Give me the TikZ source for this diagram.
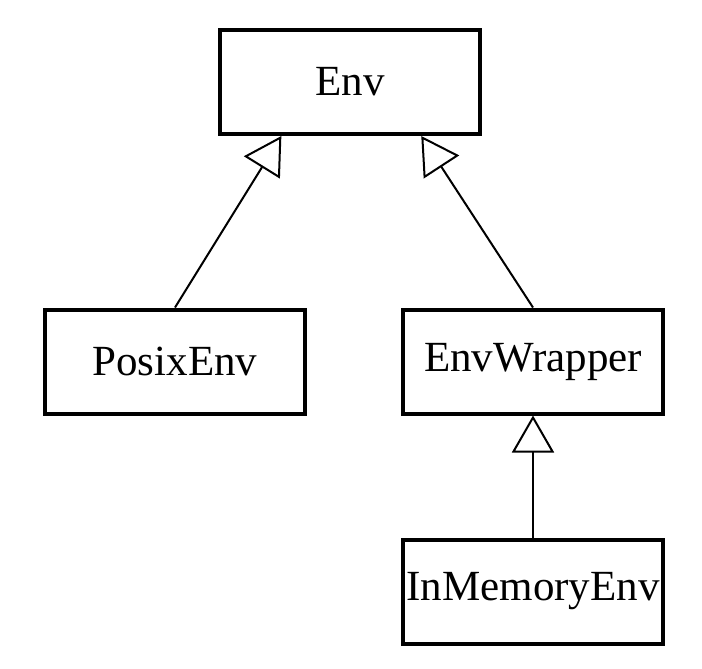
\documentclass[tikz,border=0pt]{standalone}
\usepackage{fontspec}
\setmainfont{Liberation Serif}
\usetikzlibrary{arrows.meta, positioning, calc}

\begin{document}
\begin{tikzpicture}[x=0.5pt,y=0.5pt,
    classbox/.style={draw, line width=2pt, minimum width=130pt, minimum height=52pt,
        inner sep=0pt, font=\fontsize{21.5}{26}\selectfont},
    inherit/.style={-{Triangle[open,length=18.5pt,width=21pt]}, line width=1pt}]

\useasboundingbox (0,0) rectangle (702,-669);

% classes
\node[classbox] (env) at (350,-82) {Env};
\node[classbox] (posixenv) at (175,-361.5) {PosixEnv};
\node[classbox] (envwrapper) at (533,-361.5) {EnvWrapper};
\node[classbox] (inmemoryenv) at (533,-591.5) {InMemoryEnv};

% inheritance
\draw[inherit] (posixenv.north) -- ($(env.south west)!0.24!(env.south east)$);
\draw[inherit] (envwrapper.north) -- ($(env.south west)!0.77!(env.south east)$);
\draw[inherit] (inmemoryenv) -- (envwrapper);

\end{tikzpicture}
\end{document}
